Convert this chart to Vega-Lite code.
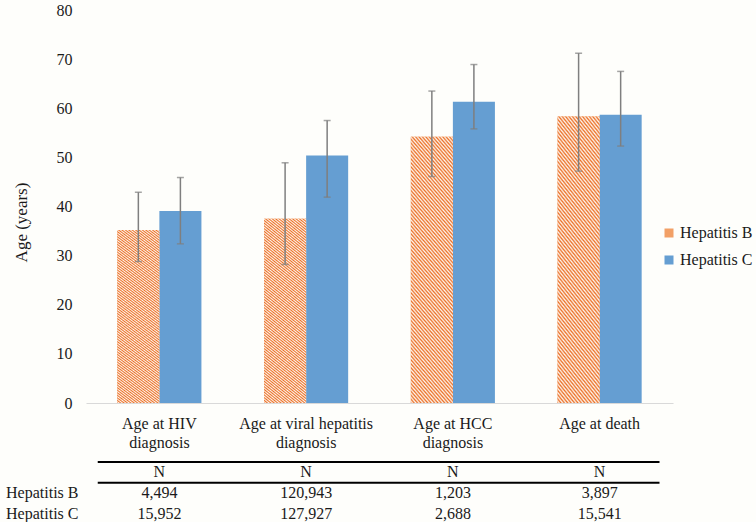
{
  "$schema": "https://vega.github.io/schema/vega-lite/v6.json",
  "background": "#FEFEFB",
  "padding": {"left": 5, "top": 2, "right": 5, "bottom": 0},
  "spacing": 10,
  "config": {
    "font": "Liberation Serif",
    "view": {"stroke": null},
    "axis": {"labelColor": "#1a1a1a", "titleColor": "#1a1a1a", "labelFont": "Liberation Serif", "titleFont": "Liberation Serif", "grid": false},
    "legend": {"labelFont": "Liberation Serif"},
    "text": {"font": "Liberation Serif"}
  },
  "datasets": {
    "bars": [
      {"cat": "Age at HIV diagnosis", "series": "Hepatitis B", "mean": 35.2, "lo": 28.8, "hi": 42.9},
      {"cat": "Age at HIV diagnosis", "series": "Hepatitis C", "mean": 39.1, "lo": 32.4, "hi": 45.9},
      {"cat": "Age at viral hepatitis diagnosis", "series": "Hepatitis B", "mean": 37.5, "lo": 28.2, "hi": 48.9},
      {"cat": "Age at viral hepatitis diagnosis", "series": "Hepatitis C", "mean": 50.4, "lo": 41.9, "hi": 57.5},
      {"cat": "Age at HCC diagnosis", "series": "Hepatitis B", "mean": 54.2, "lo": 46.1, "hi": 63.5},
      {"cat": "Age at HCC diagnosis", "series": "Hepatitis C", "mean": 61.3, "lo": 55.8, "hi": 68.9},
      {"cat": "Age at death", "series": "Hepatitis B", "mean": 58.3, "lo": 47.2, "hi": 71.2},
      {"cat": "Age at death", "series": "Hepatitis C", "mean": 58.7, "lo": 52.3, "hi": 67.5}
    ],
    "table": [
      {"cat": "Age at HIV diagnosis", "row": "N", "label": "N"},
      {"cat": "Age at HIV diagnosis", "row": "Hepatitis B", "label": "4,494"},
      {"cat": "Age at HIV diagnosis", "row": "Hepatitis C", "label": "15,952"},
      {"cat": "Age at viral hepatitis diagnosis", "row": "N", "label": "N"},
      {"cat": "Age at viral hepatitis diagnosis", "row": "Hepatitis B", "label": "120,943"},
      {"cat": "Age at viral hepatitis diagnosis", "row": "Hepatitis C", "label": "127,927"},
      {"cat": "Age at HCC diagnosis", "row": "N", "label": "N"},
      {"cat": "Age at HCC diagnosis", "row": "Hepatitis B", "label": "1,203"},
      {"cat": "Age at HCC diagnosis", "row": "Hepatitis C", "label": "2,688"},
      {"cat": "Age at death", "row": "N", "label": "N"},
      {"cat": "Age at death", "row": "Hepatitis B", "label": "3,897"},
      {"cat": "Age at death", "row": "Hepatitis C", "label": "15,541"}
    ]
  },
  "vconcat": [
    {
      "width": 587,
      "height": 393,
      "data": {"name": "bars"},
      "encoding": {
        "x": {
          "field": "cat", "type": "nominal",
          "scale": {"domain": ["Age at HIV diagnosis", "Age at viral hepatitis diagnosis", "Age at HCC diagnosis", "Age at death"], "paddingInner": 0.427, "paddingOuter": 0.2135},
          "axis": {
            "title": null, "labelAngle": 0, "ticks": false, "labelPadding": 12, "labelFontSize": 16, "labelLineHeight": 19.5,
            "domainColor": "#D9D9D9", "domainWidth": 1,
            "labelExpr": "datum.label == 'Age at HIV diagnosis' ? ['Age at HIV', 'diagnosis'] : datum.label == 'Age at viral hepatitis diagnosis' ? ['Age at viral hepatitis', 'diagnosis'] : datum.label == 'Age at HCC diagnosis' ? ['Age at HCC', 'diagnosis'] : datum.label"
          }
        },
        "xOffset": {"field": "series", "type": "nominal", "scale": {"domain": ["Hepatitis B", "Hepatitis C"], "paddingInner": 0, "paddingOuter": 0}},
        "y": {
          "field": "mean", "type": "quantitative",
          "scale": {"domain": [0, 80], "nice": false},
          "axis": {"title": "Age (years)", "titleFontSize": 17, "titleFontWeight": "normal", "titlePadding": 26, "titleY": 212, "domain": false, "ticks": false, "tickSize": 0, "labelPadding": 14, "labelFontSize": 16, "values": [0, 10, 20, 30, 40, 50, 60, 70, 80]}
        }
      },
      "layer": [
        {
          "mark": {"type": "bar"},
          "encoding": {
            "fill": {
              "field": "series", "type": "nominal",
              "scale": {"domain": ["Hepatitis B", "Hepatitis C"], "range": ["#F2A066", "#659ED2"]},
              "legend": {
                "title": null, "orient": "none", "legendX": 575, "legendY": 215, "symbolType": "square", "symbolSize": 81, "symbolStrokeWidth": 0, "labelFont": "Liberation Serif", "labelFontSize": 16, "labelOffset": 3, "rowPadding": 11, "labelColor": "#1a1a1a",
                "encode": {
                  "labels": {"update": {"font": {"value": "Liberation Serif"}}},
                  "symbols": {"update": {"fill": {"signal": "datum.label === 'Hepatitis B' ? {gradient: 'linear', x1: 1, y1: 0, x2: 0, y2: 1, stops: [{offset: 0, color: '#EA7127'}, {offset: 0.1, color: '#FFF5EE'}, {offset: 0.2, color: '#EA7127'}, {offset: 0.3, color: '#FFF5EE'}, {offset: 0.4, color: '#EA7127'}, {offset: 0.5, color: '#FFF5EE'}, {offset: 0.6, color: '#EA7127'}, {offset: 0.7, color: '#FFF5EE'}, {offset: 0.8, color: '#EA7127'}, {offset: 0.9, color: '#FFF5EE'}, {offset: 1, color: '#EA7127'}]} : '#659ED2'"}}}
                }
              }
            }
          }
        },
        {
          "transform": [{"filter": "datum.series === 'Hepatitis B'"}],
          "mark": {
            "type": "bar",
            "fill": {"gradient": "linear", "x1": 1, "y1": 0, "x2": 0.79, "y2": 1.145, "stops": [
              {"offset": 0, "color": "#EA7127"}, {"offset": 0.00625, "color": "#FFF5EE"}, {"offset": 0.0125, "color": "#EA7127"}, {"offset": 0.01875, "color": "#FFF5EE"}, {"offset": 0.025, "color": "#EA7127"}, {"offset": 0.03125, "color": "#FFF5EE"}, {"offset": 0.0375, "color": "#EA7127"}, {"offset": 0.04375, "color": "#FFF5EE"}, {"offset": 0.05, "color": "#EA7127"}, {"offset": 0.05625, "color": "#FFF5EE"}, {"offset": 0.0625, "color": "#EA7127"}, {"offset": 0.06875, "color": "#FFF5EE"}, {"offset": 0.075, "color": "#EA7127"}, {"offset": 0.08125, "color": "#FFF5EE"}, {"offset": 0.0875, "color": "#EA7127"}, {"offset": 0.09375, "color": "#FFF5EE"},
              {"offset": 0.1, "color": "#EA7127"}, {"offset": 0.10625, "color": "#FFF5EE"}, {"offset": 0.1125, "color": "#EA7127"}, {"offset": 0.11875, "color": "#FFF5EE"}, {"offset": 0.125, "color": "#EA7127"}, {"offset": 0.13125, "color": "#FFF5EE"}, {"offset": 0.1375, "color": "#EA7127"}, {"offset": 0.14375, "color": "#FFF5EE"}, {"offset": 0.15, "color": "#EA7127"}, {"offset": 0.15625, "color": "#FFF5EE"}, {"offset": 0.1625, "color": "#EA7127"}, {"offset": 0.16875, "color": "#FFF5EE"}, {"offset": 0.175, "color": "#EA7127"}, {"offset": 0.18125, "color": "#FFF5EE"}, {"offset": 0.1875, "color": "#EA7127"}, {"offset": 0.19375, "color": "#FFF5EE"},
              {"offset": 0.2, "color": "#EA7127"}, {"offset": 0.20625, "color": "#FFF5EE"}, {"offset": 0.2125, "color": "#EA7127"}, {"offset": 0.21875, "color": "#FFF5EE"}, {"offset": 0.225, "color": "#EA7127"}, {"offset": 0.23125, "color": "#FFF5EE"}, {"offset": 0.2375, "color": "#EA7127"}, {"offset": 0.24375, "color": "#FFF5EE"}, {"offset": 0.25, "color": "#EA7127"}, {"offset": 0.25625, "color": "#FFF5EE"}, {"offset": 0.2625, "color": "#EA7127"}, {"offset": 0.26875, "color": "#FFF5EE"}, {"offset": 0.275, "color": "#EA7127"}, {"offset": 0.28125, "color": "#FFF5EE"}, {"offset": 0.2875, "color": "#EA7127"}, {"offset": 0.29375, "color": "#FFF5EE"},
              {"offset": 0.3, "color": "#EA7127"}, {"offset": 0.30625, "color": "#FFF5EE"}, {"offset": 0.3125, "color": "#EA7127"}, {"offset": 0.31875, "color": "#FFF5EE"}, {"offset": 0.325, "color": "#EA7127"}, {"offset": 0.33125, "color": "#FFF5EE"}, {"offset": 0.3375, "color": "#EA7127"}, {"offset": 0.34375, "color": "#FFF5EE"}, {"offset": 0.35, "color": "#EA7127"}, {"offset": 0.35625, "color": "#FFF5EE"}, {"offset": 0.3625, "color": "#EA7127"}, {"offset": 0.36875, "color": "#FFF5EE"}, {"offset": 0.375, "color": "#EA7127"}, {"offset": 0.38125, "color": "#FFF5EE"}, {"offset": 0.3875, "color": "#EA7127"}, {"offset": 0.39375, "color": "#FFF5EE"},
              {"offset": 0.4, "color": "#EA7127"}, {"offset": 0.40625, "color": "#FFF5EE"}, {"offset": 0.4125, "color": "#EA7127"}, {"offset": 0.41875, "color": "#FFF5EE"}, {"offset": 0.425, "color": "#EA7127"}, {"offset": 0.43125, "color": "#FFF5EE"}, {"offset": 0.4375, "color": "#EA7127"}, {"offset": 0.44375, "color": "#FFF5EE"}, {"offset": 0.45, "color": "#EA7127"}, {"offset": 0.45625, "color": "#FFF5EE"}, {"offset": 0.4625, "color": "#EA7127"}, {"offset": 0.46875, "color": "#FFF5EE"}, {"offset": 0.475, "color": "#EA7127"}, {"offset": 0.48125, "color": "#FFF5EE"}, {"offset": 0.4875, "color": "#EA7127"}, {"offset": 0.49375, "color": "#FFF5EE"},
              {"offset": 0.5, "color": "#EA7127"}, {"offset": 0.50625, "color": "#FFF5EE"}, {"offset": 0.5125, "color": "#EA7127"}, {"offset": 0.51875, "color": "#FFF5EE"}, {"offset": 0.525, "color": "#EA7127"}, {"offset": 0.53125, "color": "#FFF5EE"}, {"offset": 0.5375, "color": "#EA7127"}, {"offset": 0.54375, "color": "#FFF5EE"}, {"offset": 0.55, "color": "#EA7127"}, {"offset": 0.55625, "color": "#FFF5EE"}, {"offset": 0.5625, "color": "#EA7127"}, {"offset": 0.56875, "color": "#FFF5EE"}, {"offset": 0.575, "color": "#EA7127"}, {"offset": 0.58125, "color": "#FFF5EE"}, {"offset": 0.5875, "color": "#EA7127"}, {"offset": 0.59375, "color": "#FFF5EE"},
              {"offset": 0.6, "color": "#EA7127"}, {"offset": 0.60625, "color": "#FFF5EE"}, {"offset": 0.6125, "color": "#EA7127"}, {"offset": 0.61875, "color": "#FFF5EE"}, {"offset": 0.625, "color": "#EA7127"}, {"offset": 0.63125, "color": "#FFF5EE"}, {"offset": 0.6375, "color": "#EA7127"}, {"offset": 0.64375, "color": "#FFF5EE"}, {"offset": 0.65, "color": "#EA7127"}, {"offset": 0.65625, "color": "#FFF5EE"}, {"offset": 0.6625, "color": "#EA7127"}, {"offset": 0.66875, "color": "#FFF5EE"}, {"offset": 0.675, "color": "#EA7127"}, {"offset": 0.68125, "color": "#FFF5EE"}, {"offset": 0.6875, "color": "#EA7127"}, {"offset": 0.69375, "color": "#FFF5EE"},
              {"offset": 0.7, "color": "#EA7127"}, {"offset": 0.70625, "color": "#FFF5EE"}, {"offset": 0.7125, "color": "#EA7127"}, {"offset": 0.71875, "color": "#FFF5EE"}, {"offset": 0.725, "color": "#EA7127"}, {"offset": 0.73125, "color": "#FFF5EE"}, {"offset": 0.7375, "color": "#EA7127"}, {"offset": 0.74375, "color": "#FFF5EE"}, {"offset": 0.75, "color": "#EA7127"}, {"offset": 0.75625, "color": "#FFF5EE"}, {"offset": 0.7625, "color": "#EA7127"}, {"offset": 0.76875, "color": "#FFF5EE"}, {"offset": 0.775, "color": "#EA7127"}, {"offset": 0.78125, "color": "#FFF5EE"}, {"offset": 0.7875, "color": "#EA7127"}, {"offset": 0.79375, "color": "#FFF5EE"},
              {"offset": 0.8, "color": "#EA7127"}, {"offset": 0.80625, "color": "#FFF5EE"}, {"offset": 0.8125, "color": "#EA7127"}, {"offset": 0.81875, "color": "#FFF5EE"}, {"offset": 0.825, "color": "#EA7127"}, {"offset": 0.83125, "color": "#FFF5EE"}, {"offset": 0.8375, "color": "#EA7127"}, {"offset": 0.84375, "color": "#FFF5EE"}, {"offset": 0.85, "color": "#EA7127"}, {"offset": 0.85625, "color": "#FFF5EE"}, {"offset": 0.8625, "color": "#EA7127"}, {"offset": 0.86875, "color": "#FFF5EE"}, {"offset": 0.875, "color": "#EA7127"}, {"offset": 0.88125, "color": "#FFF5EE"}, {"offset": 0.8875, "color": "#EA7127"}, {"offset": 0.89375, "color": "#FFF5EE"},
              {"offset": 0.9, "color": "#EA7127"}, {"offset": 0.90625, "color": "#FFF5EE"}, {"offset": 0.9125, "color": "#EA7127"}, {"offset": 0.91875, "color": "#FFF5EE"}, {"offset": 0.925, "color": "#EA7127"}, {"offset": 0.93125, "color": "#FFF5EE"}, {"offset": 0.9375, "color": "#EA7127"}, {"offset": 0.94375, "color": "#FFF5EE"}, {"offset": 0.95, "color": "#EA7127"}, {"offset": 0.95625, "color": "#FFF5EE"}, {"offset": 0.9625, "color": "#EA7127"}, {"offset": 0.96875, "color": "#FFF5EE"}, {"offset": 0.975, "color": "#EA7127"}, {"offset": 0.98125, "color": "#FFF5EE"}, {"offset": 0.9875, "color": "#EA7127"}, {"offset": 0.99375, "color": "#FFF5EE"},
              {"offset": 1, "color": "#EA7127"}
            ]}
          },
          "encoding": {}
        },
        {
          "mark": {"type": "rule", "color": "#7F7F7F", "strokeWidth": 1.5},
          "encoding": {"y": {"field": "lo", "type": "quantitative"}, "y2": {"field": "hi"}}
        },
        {
          "mark": {"type": "tick", "color": "#7F7F7F", "thickness": 1.5, "size": 7},
          "encoding": {"y": {"field": "lo", "type": "quantitative"}}
        },
        {
          "mark": {"type": "tick", "color": "#7F7F7F", "thickness": 1.5, "size": 7},
          "encoding": {"y": {"field": "hi", "type": "quantitative"}}
        }
      ]
    },
    {
      "width": 587,
      "height": 62,
      "data": {"name": "table"},
      "encoding": {
        "y": {
          "field": "row", "type": "nominal",
          "scale": {"domain": ["N", "Hepatitis B", "Hepatitis C"], "paddingInner": 0, "paddingOuter": 0},
          "axis": {"title": null, "domain": false, "ticks": false, "labelPadding": 8, "labelFontSize": 16, "labelExpr": "datum.label == 'N' ? '' : datum.label"}
        }
      },
      "layer": [
        {
          "mark": {"type": "text", "fontSize": 16, "color": "#1a1a1a", "font": "Liberation Serif"},
          "encoding": {
            "x": {
              "field": "cat", "type": "nominal",
              "scale": {"domain": ["Age at HIV diagnosis", "Age at viral hepatitis diagnosis", "Age at HCC diagnosis", "Age at death"], "paddingInner": 0.427, "paddingOuter": 0.2135},
              "axis": null
            },
            "text": {"field": "label"}
          }
        },
        {
          "data": {"values": [{"edge": "top"}]},
          "mark": {"type": "rule", "color": "#000000", "strokeWidth": 2},
          "encoding": {
            "x": {"datum": 0.02, "type": "quantitative", "scale": {"domain": [0, 1]}, "axis": null},
            "x2": {"datum": 0.977},
            "y": {"datum": "N", "type": "nominal", "bandPosition": 0}
          }
        },
        {
          "data": {"values": [{"edge": "bottom"}]},
          "mark": {"type": "rule", "color": "#000000", "strokeWidth": 2},
          "encoding": {
            "x": {"datum": 0.02, "type": "quantitative", "scale": {"domain": [0, 1]}, "axis": null},
            "x2": {"datum": 0.977},
            "y": {"datum": "N", "type": "nominal", "bandPosition": 1}
          }
        }
      ],
      "resolve": {"scale": {"x": "independent"}}
    }
  ]
}
